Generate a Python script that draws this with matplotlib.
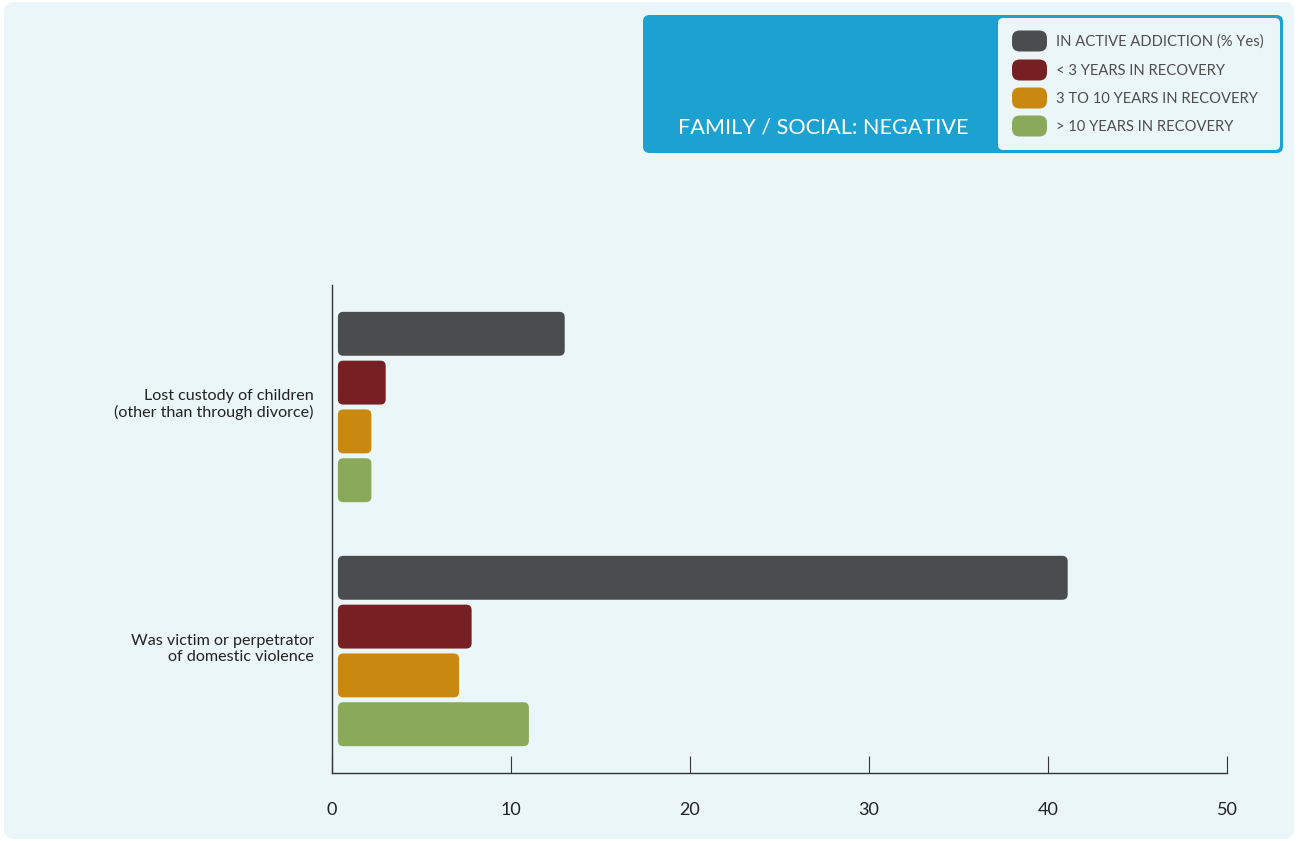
import numpy as np
import matplotlib
matplotlib.use("Agg")
import matplotlib.pyplot as plt
from matplotlib.patches import FancyBboxPatch
from matplotlib.transforms import ScaledTranslation

plt.rcParams['font.family'] = ['Lato', 'DejaVu Sans']

categories = ["Lost custody of children\n(other than through divorce)",
              "Was victim or perpetrator\nof domestic violence"]
series = ["IN ACTIVE ADDICTION (% Yes)", "< 3 YEARS IN RECOVERY",
          "3 TO 10 YEARS IN RECOVERY", "> 10 YEARS IN RECOVERY"]
active = [13.0, 41.1]
under3 = [3.0, 7.8]
three_to_ten = [2.2, 7.1]
over10 = [2.2, 11.0]
values = [active, under3, three_to_ten, over10]
colors = ["#4b4c4e", "#762023", "#c9880f", "#8aa95a"]
title = "FAMILY / SOCIAL: NEGATIVE"

W, H = 1297, 841
fig = plt.figure(figsize=(W / 100, H / 100), dpi=100)
fig.patch.set_facecolor("white")

bg = "#eaf6f8"
blue = "#1da1d0"
# light panel
fig.patches.append(FancyBboxPatch((4 / W, 2 / H), 1290 / W, 837 / H,
                                  boxstyle="round,pad=0,rounding_size=0.008",
                                  transform=fig.transFigure, fc=bg, ec="none",
                                  mutation_aspect=W / H, zorder=0))
# legend panel
fig.patches.append(FancyBboxPatch((643 / W, (H - 153) / H), 640 / W, 138 / H,
                                  boxstyle="round,pad=0,rounding_size=0.005",
                                  transform=fig.transFigure, fc=blue, ec="none",
                                  mutation_aspect=W / H, zorder=1))
fig.patches.append(FancyBboxPatch((998 / W, (H - 150) / H), 282 / W, 132 / H,
                                  boxstyle="round,pad=0,rounding_size=0.004",
                                  transform=fig.transFigure, fc=bg, ec="none",
                                  mutation_aspect=W / H, zorder=2))
fig.text(823 / W, 1 - 127 / H, title, color="white", fontsize=15.6,
         ha="center", va="center", zorder=3)

sw_y = [41, 70, 98, 126]
for name, c, yy in zip(series, colors, sw_y):
    fig.patches.append(FancyBboxPatch((1012 / W, 1 - (yy + 10.5) / H), 35 / W, 21 / H,
                                      boxstyle="round,pad=0,rounding_size=0.006",
                                      transform=fig.transFigure, fc=c, ec="none",
                                      mutation_aspect=W / H, zorder=3))
    fig.text(1056 / W, 1 - (yy + 1) / H, name, color="#4d4d4d", fontsize=10.6,
             ha="left", va="center", zorder=3)

ax = fig.add_axes([332 / W, 1 - 773 / H, 895 / W, 488 / H])
ax.set_zorder(5)
ax.set_facecolor("none")
ax.set_xlim(0, 50)
ax.set_ylim(1.5, -0.5)

offsets = [-0.3, -0.1, 0.1, 0.3]
bar_h = 0.18
start = 0.33
x_px = 895 / 50
y_px = 488 / 2
for vals, c, off in zip(values, colors, offsets):
    for i, v in enumerate(vals):
        ax.add_patch(FancyBboxPatch((start, i + off - bar_h / 2), v - start, bar_h,
                                    boxstyle="round,pad=0,rounding_size=0.3",
                                    mutation_aspect=x_px / y_px,
                                    fc=c, ec="none", zorder=2))

for s in ["top", "right"]:
    ax.spines[s].set_visible(False)
for s in ["left", "bottom"]:
    ax.spines[s].set_color("#333333")
    ax.spines[s].set_linewidth(1.0)

ax.set_xticks([0, 10, 20, 30, 40, 50])
ax.tick_params(axis="x", direction="in", length=12, width=0.8, color="#333333",
               labelsize=13, labelcolor="#222222", pad=21)
ax.set_yticks([0.0, 1.0])
ax.set_yticklabels(categories, fontsize=11.6, color="#222222")
ax.tick_params(axis="y", length=0, pad=13)
shift = ScaledTranslation(0, 5 / 100, fig.dpi_scale_trans)
for lab in ax.get_yticklabels():
    lab.set_horizontalalignment("right")
    lab.set_transform(lab.get_transform() + shift)

fig.savefig("out.png", dpi=100, facecolor=fig.get_facecolor())
